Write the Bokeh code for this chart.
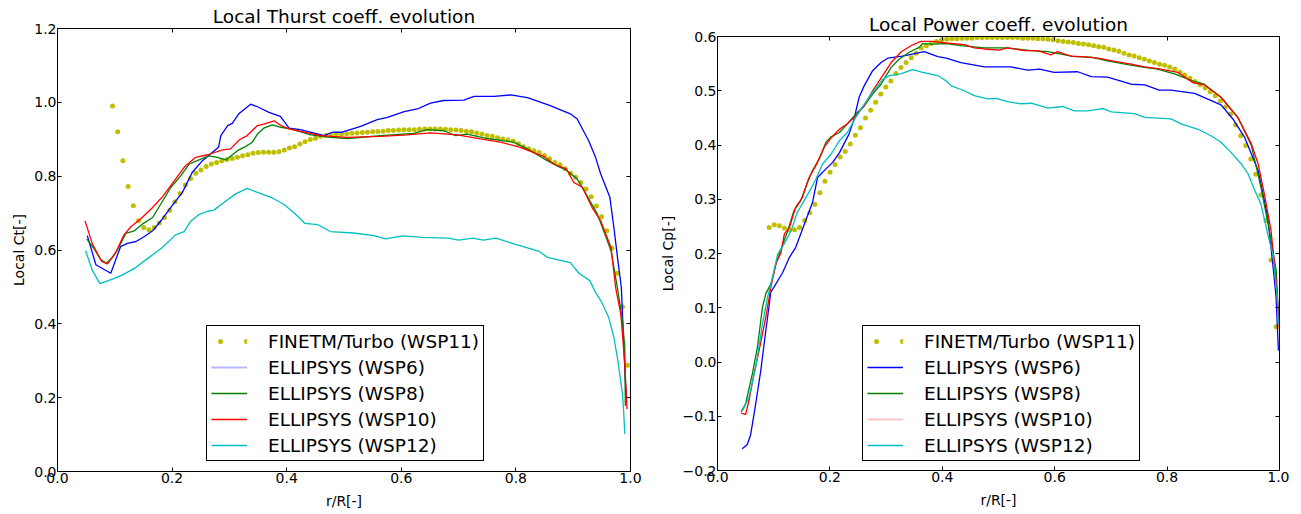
from bokeh.plotting import figure
from bokeh.models import (Legend, LegendItem, FixedTicker, CustomJSTickFormatter,
                          LinearAxis, Range1d)
from bokeh.embed import file_html
from bokeh.resources import INLINE
import numpy as np

FONT = "DejaVu Sans"
C_B, C_G, C_R, C_C, C_Y = "#0000ff", "#008000", "#ff0000", "#00bfbf", "#bfbf00"

# ---------------- Data: Local thrust coefficient ----------------
ct_fine_x = np.linspace(0.096, 0.995, 100)
ct_fine_y = [0.990, 0.920, 0.842, 0.772, 0.720, 0.679, 0.661, 0.655, 0.661, 0.673,
             0.688, 0.708, 0.731, 0.753, 0.776, 0.794, 0.808, 0.817, 0.826, 0.833,
             0.837, 0.842, 0.845, 0.848, 0.851, 0.855, 0.858, 0.862, 0.864, 0.865,
             0.865, 0.865, 0.866, 0.871, 0.876, 0.880, 0.887, 0.893, 0.899, 0.903,
             0.908, 0.910, 0.912, 0.914, 0.914, 0.915, 0.916, 0.917, 0.918, 0.919,
             0.920, 0.921, 0.922, 0.924, 0.924, 0.925, 0.926, 0.926, 0.926, 0.927,
             0.928, 0.928, 0.928, 0.928, 0.927, 0.926, 0.925, 0.924, 0.922, 0.920,
             0.917, 0.914, 0.910, 0.908, 0.904, 0.901, 0.898, 0.895, 0.888, 0.880,
             0.874, 0.869, 0.864, 0.856, 0.847, 0.837, 0.831, 0.820, 0.808, 0.797,
             0.783, 0.765, 0.744, 0.719, 0.690, 0.652, 0.605, 0.537, 0.446, 0.288]

ct_w6_x = [0.052, 0.067, 0.093, 0.110, 0.122, 0.137, 0.151, 0.166, 0.183, 0.200, 0.218, 0.235,
           0.253, 0.270, 0.281, 0.285, 0.297, 0.305, 0.317, 0.337, 0.349, 0.369, 0.389, 0.404,
           0.424, 0.465, 0.480, 0.497, 0.529, 0.558, 0.576, 0.605, 0.628, 0.651, 0.674, 0.709,
           0.727, 0.762, 0.791, 0.820, 0.840, 0.860, 0.895, 0.907, 0.927, 0.939, 0.948, 0.964,
           0.971, 0.978, 0.984, 0.988, 0.991, 0.993]
ct_w6_y = [0.639, 0.560, 0.537, 0.609, 0.618, 0.623, 0.636, 0.652, 0.684, 0.720, 0.756, 0.810,
           0.842, 0.864, 0.878, 0.910, 0.937, 0.943, 0.970, 0.995, 0.988, 0.973, 0.962, 0.930,
           0.926, 0.910, 0.919, 0.919, 0.935, 0.953, 0.959, 0.975, 0.982, 0.998, 1.005, 1.006,
           1.016, 1.016, 1.020, 1.013, 1.002, 0.991, 0.969, 0.955, 0.896, 0.851, 0.806, 0.743,
           0.661, 0.571, 0.499, 0.354, 0.246, 0.192]

ct_w8_x = [0.051, 0.064, 0.075, 0.085, 0.096, 0.107, 0.119, 0.134, 0.148, 0.166, 0.180, 0.198,
           0.215, 0.230, 0.244, 0.264, 0.279, 0.294, 0.314, 0.328, 0.340, 0.349, 0.360, 0.375,
           0.390, 0.407, 0.442, 0.477, 0.506, 0.564, 0.622, 0.645, 0.674, 0.695, 0.715, 0.750,
           0.796, 0.820, 0.849, 0.872, 0.888, 0.907, 0.919, 0.942, 0.966, 0.977, 0.986, 0.990,
           0.991]
ct_w8_y = [0.630, 0.603, 0.575, 0.564, 0.580, 0.607, 0.645, 0.652, 0.670, 0.688, 0.724, 0.770,
           0.801, 0.833, 0.842, 0.855, 0.851, 0.844, 0.869, 0.880, 0.892, 0.914, 0.930, 0.939,
           0.932, 0.928, 0.912, 0.905, 0.902, 0.910, 0.916, 0.926, 0.923, 0.910, 0.914, 0.902,
           0.892, 0.874, 0.847, 0.828, 0.816, 0.792, 0.761, 0.698, 0.598, 0.499, 0.408, 0.336,
           0.178]

ct_w10_x = [0.048, 0.061, 0.077, 0.087, 0.102, 0.116, 0.128, 0.145, 0.166, 0.183, 0.200, 0.221,
            0.241, 0.262, 0.288, 0.302, 0.317, 0.331, 0.349, 0.360, 0.378, 0.390, 0.404, 0.459,
            0.506, 0.564, 0.610, 0.651, 0.698, 0.738, 0.773, 0.808, 0.826, 0.849, 0.866, 0.888,
            0.901, 0.916, 0.933, 0.948, 0.966, 0.974, 0.983, 0.986, 0.990, 0.994]
ct_w10_y = [0.679, 0.616, 0.569, 0.562, 0.594, 0.641, 0.663, 0.684, 0.715, 0.744, 0.779, 0.824,
            0.851, 0.858, 0.871, 0.874, 0.898, 0.910, 0.937, 0.941, 0.950, 0.937, 0.928, 0.910,
            0.905, 0.908, 0.912, 0.917, 0.912, 0.901, 0.892, 0.878, 0.867, 0.853, 0.833, 0.820,
            0.783, 0.770, 0.715, 0.679, 0.607, 0.499, 0.427, 0.372, 0.291, 0.169]

ct_w12_x = [0.049, 0.061, 0.074, 0.096, 0.113, 0.137, 0.160, 0.183, 0.206, 0.221, 0.232, 0.247,
            0.262, 0.273, 0.288, 0.311, 0.331, 0.349, 0.375, 0.395, 0.416, 0.432, 0.454, 0.476,
            0.516, 0.552, 0.573, 0.602, 0.638, 0.682, 0.700, 0.725, 0.743, 0.765, 0.798, 0.841,
            0.855, 0.895, 0.910, 0.929, 0.939, 0.950, 0.962, 0.971, 0.978, 0.986, 0.988, 0.990]
ct_w12_y = [0.598, 0.544, 0.509, 0.521, 0.532, 0.553, 0.580, 0.607, 0.641, 0.650, 0.677, 0.696,
            0.705, 0.708, 0.726, 0.752, 0.767, 0.756, 0.741, 0.724, 0.696, 0.672, 0.669, 0.650,
            0.646, 0.639, 0.630, 0.638, 0.634, 0.632, 0.627, 0.632, 0.627, 0.632, 0.616, 0.596,
            0.580, 0.566, 0.537, 0.517, 0.485, 0.458, 0.417, 0.363, 0.300, 0.210, 0.165, 0.102]

# ---------------- Data: Local power coefficient ----------------
cp_fine_x = np.linspace(0.092, 0.994, 101)
cp_fine_y = [0.248, 0.253, 0.251, 0.247, 0.244, 0.244, 0.248, 0.261, 0.275, 0.291,
             0.312, 0.333, 0.350, 0.364, 0.378, 0.388, 0.402, 0.418, 0.432, 0.450,
             0.464, 0.479, 0.494, 0.507, 0.518, 0.532, 0.543, 0.552, 0.561, 0.569,
             0.579, 0.583, 0.587, 0.591, 0.594, 0.595, 0.596, 0.596, 0.597, 0.597,
             0.597, 0.598, 0.598, 0.598, 0.598, 0.598, 0.598, 0.598, 0.598, 0.598,
             0.597, 0.597, 0.597, 0.596, 0.596, 0.595, 0.594, 0.592, 0.591, 0.590,
             0.589, 0.587, 0.586, 0.585, 0.583, 0.581, 0.580, 0.577, 0.575, 0.573,
             0.569, 0.566, 0.564, 0.561, 0.558, 0.555, 0.552, 0.549, 0.547, 0.544,
             0.540, 0.534, 0.529, 0.523, 0.517, 0.511, 0.505, 0.498, 0.491, 0.481,
             0.470, 0.457, 0.437, 0.417, 0.399, 0.374, 0.346, 0.308, 0.261, 0.188,
             0.065]

cp_w6_x = [0.044, 0.053, 0.059, 0.068, 0.077, 0.086, 0.095, 0.101, 0.116, 0.128, 0.139, 0.148,
           0.157, 0.169, 0.178, 0.193, 0.205, 0.217, 0.234, 0.243, 0.252, 0.261, 0.276, 0.291,
           0.303, 0.329, 0.353, 0.368, 0.392, 0.407, 0.433, 0.475, 0.522, 0.552, 0.573, 0.599,
           0.641, 0.665, 0.694, 0.736, 0.760, 0.786, 0.807, 0.849, 0.896, 0.917, 0.938, 0.962,
           0.979, 0.988, 0.994, 0.998]
cp_w6_y = [-0.160, -0.152, -0.134, -0.077, -0.016, 0.058, 0.129, 0.139, 0.165, 0.193, 0.211, 0.236,
           0.261, 0.294, 0.340, 0.356, 0.368, 0.386, 0.420, 0.448, 0.488, 0.509, 0.537, 0.552,
           0.560, 0.564, 0.569, 0.572, 0.563, 0.560, 0.552, 0.544, 0.544, 0.538, 0.540, 0.534,
           0.535, 0.526, 0.525, 0.512, 0.511, 0.501, 0.501, 0.495, 0.474, 0.448, 0.414, 0.353,
           0.267, 0.181, 0.119, 0.021]

cp_w8_x = [0.042, 0.050, 0.062, 0.071, 0.080, 0.086, 0.095, 0.104, 0.113, 0.125, 0.136, 0.148,
           0.160, 0.169, 0.181, 0.193, 0.202, 0.217, 0.231, 0.246, 0.261, 0.276, 0.291, 0.309,
           0.323, 0.341, 0.359, 0.365, 0.383, 0.407, 0.433, 0.475, 0.516, 0.558, 0.588, 0.635,
           0.665, 0.694, 0.730, 0.754, 0.783, 0.813, 0.849, 0.866, 0.896, 0.926, 0.950, 0.967,
           0.982, 0.994, 0.998]
cp_w8_y = [-0.092, -0.077, -0.022, 0.027, 0.101, 0.126, 0.144, 0.181, 0.208, 0.242, 0.279, 0.297,
           0.331, 0.353, 0.374, 0.405, 0.415, 0.423, 0.439, 0.457, 0.472, 0.494, 0.512, 0.543,
           0.558, 0.571, 0.580, 0.587, 0.586, 0.587, 0.583, 0.579, 0.579, 0.574, 0.572, 0.563,
           0.562, 0.555, 0.548, 0.544, 0.540, 0.531, 0.517, 0.512, 0.488, 0.451, 0.399, 0.322,
           0.242, 0.169, 0.089]

cp_w10_x = [0.042, 0.050, 0.056, 0.065, 0.074, 0.086, 0.095, 0.104, 0.113, 0.119, 0.128, 0.139,
            0.151, 0.163, 0.175, 0.190, 0.202, 0.217, 0.231, 0.246, 0.261, 0.276, 0.294, 0.309,
            0.326, 0.344, 0.362, 0.383, 0.407, 0.439, 0.457, 0.475, 0.501, 0.516, 0.546, 0.570,
            0.593, 0.605, 0.629, 0.647, 0.677, 0.707, 0.736, 0.760, 0.789, 0.819, 0.846, 0.866,
            0.896, 0.926, 0.950, 0.962, 0.973, 0.985, 0.994, 1.000]
cp_w10_y = [-0.094, -0.097, -0.071, -0.022, 0.021, 0.083, 0.138, 0.181, 0.202, 0.236, 0.248, 0.285,
            0.303, 0.340, 0.362, 0.396, 0.413, 0.429, 0.439, 0.454, 0.472, 0.500, 0.528, 0.552,
            0.571, 0.583, 0.591, 0.591, 0.588, 0.585, 0.579, 0.577, 0.575, 0.579, 0.574, 0.574,
            0.566, 0.572, 0.564, 0.563, 0.560, 0.554, 0.549, 0.544, 0.540, 0.534, 0.515, 0.511,
            0.488, 0.450, 0.402, 0.365, 0.310, 0.242, 0.150, 0.058]

cp_w12_x = [0.045, 0.056, 0.068, 0.080, 0.089, 0.098, 0.107, 0.119, 0.131, 0.142, 0.154, 0.166,
            0.175, 0.187, 0.202, 0.217, 0.231, 0.246, 0.261, 0.276, 0.294, 0.306, 0.326, 0.347,
            0.365, 0.392, 0.407, 0.416, 0.439, 0.457, 0.481, 0.496, 0.516, 0.540, 0.558, 0.588,
            0.614, 0.635, 0.659, 0.686, 0.701, 0.742, 0.760, 0.807, 0.825, 0.855, 0.878, 0.896,
            0.914, 0.932, 0.944, 0.956, 0.967, 0.979, 0.988, 0.996, 0.998]
cp_w12_y = [-0.089, -0.065, -0.010, 0.070, 0.119, 0.156, 0.199, 0.218, 0.242, 0.276, 0.297, 0.319,
            0.337, 0.365, 0.383, 0.408, 0.423, 0.451, 0.475, 0.497, 0.521, 0.528, 0.531, 0.539,
            0.534, 0.528, 0.518, 0.509, 0.500, 0.491, 0.485, 0.486, 0.480, 0.476, 0.477, 0.468,
            0.471, 0.463, 0.463, 0.467, 0.461, 0.458, 0.451, 0.448, 0.439, 0.429, 0.417, 0.405,
            0.386, 0.365, 0.347, 0.316, 0.291, 0.236, 0.199, 0.119, 0.070]

x_ticks = [0.0, 0.2, 0.4, 0.6, 0.8, 1.0]
ct_ticks = [0.0, 0.2, 0.4, 0.6, 0.8, 1.0, 1.2]
cp_ticks = [-0.2, -0.1, 0.0, 0.1, 0.2, 0.3, 0.4, 0.5, 0.6]

labels = ["FINETM/Turbo (WSP11)", "ELLIPSYS (WSP6)", "ELLIPSYS (WSP8)",
          "ELLIPSYS (WSP10)", "ELLIPSYS (WSP12)"]

FMT = CustomJSTickFormatter(code="return tick.toFixed(1).replace('-', '\\u2212');")
NAN = [np.nan]


def style_axis(ax, ticks, show_labels=True):
    ax.ticker = FixedTicker(ticks=ticks)
    ax.formatter = FMT
    ax.major_tick_in = 4
    ax.major_tick_out = 0
    ax.minor_tick_line_color = None
    ax.axis_line_color = "black"
    ax.major_tick_line_color = "black"
    ax.major_label_text_font = FONT
    if show_labels:
        ax.major_label_text_font_size = "14px"
        ax.major_label_text_color = "black"
    else:
        ax.major_label_text_font_size = "1px"
        ax.major_label_text_color = None
        ax.major_label_standoff = 0
    ax.axis_label_text_font = FONT
    ax.axis_label_text_font_size = "14px"
    ax.axis_label_text_font_style = "normal"
    ax.axis_label_text_color = "black"


def make_fig(title, ylabel, yr, yticks, fw, fh, mbl, mbt, mbr):
    p = figure(frame_width=fw, frame_height=fh, x_range=Range1d(0, 1), y_range=Range1d(*yr),
               output_backend="svg", toolbar_location=None,
               min_border_left=mbl, min_border_top=mbt, min_border_right=mbr,
               min_border_bottom=20)
    p.title.text = title
    p.title.align = "center"
    p.title.text_font = FONT
    p.title.text_font_size = "18.5px"
    p.title.text_font_style = "normal"
    p.title.text_color = "black"
    p.title.text_line_height = 1.0
    p.title.standoff = 4
    p.grid.visible = False
    p.outline_line_color = "black"
    p.outline_line_alpha = 1
    p.outline_line_width = 1
    p.background_fill_color = "white"
    p.border_fill_color = "white"
    style_axis(p.xaxis[0], x_ticks)
    style_axis(p.yaxis[0], yticks)
    p.xaxis[0].axis_label = "r/R[-]"
    p.xaxis[0].major_label_standoff = 1
    p.xaxis[0].axis_label_standoff = 7
    p.yaxis[0].axis_label = ylabel
    p.yaxis[0].major_label_standoff = 1
    p.yaxis[0].axis_label_standoff = 4
    top = LinearAxis()
    right = LinearAxis()
    style_axis(top, x_ticks, False)
    style_axis(right, yticks, False)
    p.add_layout(top, "above")
    p.add_layout(right, "right")
    return p


def legend_for(p, items, loc):
    leg = Legend(items=items, location=loc, border_line_color="black", border_line_width=1,
                 border_line_alpha=1, background_fill_color="white", background_fill_alpha=1,
                 label_text_font=FONT, label_text_font_size="18.5px", label_text_color="black",
                 glyph_width=36, glyph_height=22, label_height=22, spacing=4, padding=4,
                 label_standoff=21, margin=0)
    p.add_layout(leg, "center")


def dots_legend(p):
    return p.line(NAN, NAN, line_color=C_Y, line_width=5, line_dash="0 26",
                  line_dash_offset=17, line_cap="round")


LW = 1.3

# ---------- Thrust figure ----------
p1 = make_fig("Local Thurst coeff. evolution", "Local Ct[-]", (0, 1.2), ct_ticks,
              573, 443, 49, 27, 20)
p1.scatter(ct_fine_x, ct_fine_y, size=5, color=C_Y, line_color=None)
p1.line(ct_w6_x, ct_w6_y, line_color=C_B, line_width=LW)
r8 = p1.line(ct_w8_x, ct_w8_y, line_color=C_G, line_width=LW)
r10 = p1.line(ct_w10_x, ct_w10_y, line_color=C_R, line_width=LW)
r12 = p1.line(ct_w12_x, ct_w12_y, line_color=C_C, line_width=LW)
d1 = dots_legend(p1)
l6 = p1.line(NAN, NAN, line_color="#b8b8ff", line_width=2)
legend_for(p1, [LegendItem(label=labels[0], renderers=[d1]),
                LegendItem(label=labels[1], renderers=[l6]),
                LegendItem(label=labels[2], renderers=[r8]),
                LegendItem(label=labels[3], renderers=[r10]),
                LegendItem(label=labels[4], renderers=[r12])], (149, 10))

# ---------- Power figure ----------
p2 = make_fig("Local Power coeff. evolution", "Local Cp[-]", (-0.2, 0.6), cp_ticks,
              562, 434, 67, 35, 10)
p2.scatter(cp_fine_x, cp_fine_y, size=5, color=C_Y, line_color=None)
q6 = p2.line(cp_w6_x, cp_w6_y, line_color=C_B, line_width=LW)
q8 = p2.line(cp_w8_x, cp_w8_y, line_color=C_G, line_width=LW)
p2.line(cp_w10_x, cp_w10_y, line_color=C_R, line_width=LW)
q12 = p2.line(cp_w12_x, cp_w12_y, line_color=C_C, line_width=LW)
d2 = dots_legend(p2)
l10 = p2.line(NAN, NAN, line_color="#ffc4c4", line_width=2)
legend_for(p2, [LegendItem(label=labels[0], renderers=[d2]),
                LegendItem(label=labels[1], renderers=[q6]),
                LegendItem(label=labels[2], renderers=[q8]),
                LegendItem(label=labels[3], renderers=[l10]),
                LegendItem(label=labels[4], renderers=[q12])], (145, 9))

# two independent roots placed side by side (so their frames are not aligned)
TEMPLATE = """
{% block postamble %}
<style>
html { overflow: hidden; }
body { margin: 1px 8px 8px 8px; display: flex; flex-direction: row; align-items: flex-start; overflow: hidden; }
</style>
{% endblock %}
"""

open("out.html", "w").write(file_html([p1, p2], INLINE, template=TEMPLATE))
